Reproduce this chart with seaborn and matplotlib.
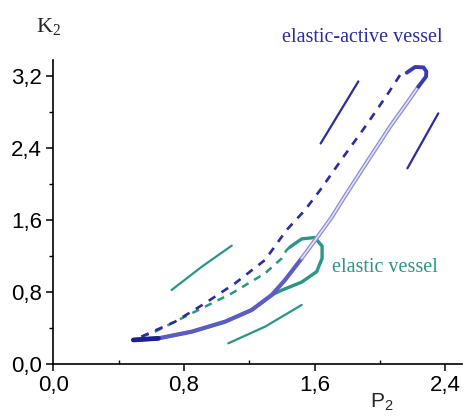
import numpy as np
import pandas as pd
import matplotlib
matplotlib.use("Agg")
import matplotlib.pyplot as plt
import matplotlib.patheffects as pe
from matplotlib.ticker import MultipleLocator, FuncFormatter
import seaborn as sns

# --- elastic-active vessel: loading branch (solid) and unloading branch (dashed)
active_load_p = [0.49, 0.643, 0.847, 1.051, 1.214, 1.337, 1.418, 1.52, 1.60, 1.70,
                 1.796, 1.928, 2.061, 2.163, 2.234, 2.281, 2.283, 2.265, 2.214, 2.163]
active_load_k = [0.267, 0.285, 0.359, 0.47, 0.60, 0.767, 0.933, 1.174, 1.37, 1.62,
                 1.897, 2.267, 2.637, 2.896, 3.081, 3.193, 3.25, 3.296, 3.30, 3.237]
active_unload_p = [2.122, 2.05, 1.918, 1.775, 1.632, 1.54, 1.428, 1.296, 1.112, 0.928,
                   0.745, 0.561, 0.49]
active_unload_k = [3.21, 3.01, 2.66, 2.30, 1.93, 1.71, 1.489, 1.156, 0.896, 0.674,
                   0.47, 0.322, 0.267]

# --- elastic vessel
elastic_load_p = [0.49, 0.643, 0.847, 1.051, 1.214, 1.337, 1.398, 1.52, 1.612, 1.645,
                  1.645, 1.60, 1.52, 1.449]
elastic_load_k = [0.267, 0.285, 0.359, 0.47, 0.60, 0.767, 0.82, 0.91, 1.026, 1.174,
                  1.31, 1.405, 1.39, 1.30]
elastic_unload_p = [1.449, 1.428, 1.398, 1.296, 1.092, 0.847, 0.622, 0.49]
elastic_unload_k = [1.30, 1.267, 1.174, 1.007, 0.785, 0.563, 0.359, 0.267]

# direction strokes beside the loops
active_down_p, active_down_k = [1.867, 1.636], [3.14, 2.45]
active_up_p, active_up_k = [2.167, 2.356], [2.174, 2.785]
elastic_down_p, elastic_down_k = [1.092, 0.908, 0.724], [1.315, 1.08, 0.822]
elastic_up_p, elastic_up_k = [1.071, 1.296, 1.52], [0.23, 0.415, 0.656]

x_ticks = [0.0, 0.8, 1.6, 2.4]
y_ticks = [0.0, 0.8, 1.6, 2.4, 3.2]

BLUE = "#2c2ca0"
TEAL = "#2a9686"

sns.set_theme(style="ticks")
plt.rcParams["font.family"] = ["Liberation Sans", "DejaVu Sans"]

fig = plt.figure(figsize=(4.65, 4.16), dpi=100)
ax = fig.add_axes([53.3 / 465, 1 - 364 / 416, 2.5 * 163.4 / 465, 3.38 * 90 / 416])


def draw(p, k, **kw):
    df = pd.DataFrame({"P": p, "K": k})
    sns.lineplot(data=df, x="P", y="K", sort=False, estimator=None, ax=ax, **kw)


# dashed unloading branches
draw(elastic_unload_p, elastic_unload_k, color=TEAL, lw=1.8, dashes=(3.0, 2.6))
draw(active_unload_p, active_unload_k, color=BLUE, lw=1.9, dashes=(3.0, 2.8))

# elastic vessel loop
draw(elastic_load_p, elastic_load_k, color=TEAL, lw=2.4, solid_capstyle="round")

# elastic-active loading branch: denser lower part, hollow tube above, dark turn at the top
draw(active_load_p[:8], active_load_k[:8], color="#5c5cc4", lw=3.0, solid_capstyle="round")
draw(active_load_p[7:15], active_load_k[7:15], color="#e2e2f6", lw=1.2,
     path_effects=[pe.Stroke(linewidth=3.0, foreground="#8c8cd4"), pe.Normal()])
draw(active_load_p[14:], active_load_k[14:], color="#3a3ab6", lw=2.8, solid_capstyle="round")
draw(active_load_p[:2], active_load_k[:2], color="#1e1e96", lw=3.4, solid_capstyle="round")

# direction strokes
for p, k, c in [(active_down_p, active_down_k, BLUE), (active_up_p, active_up_k, BLUE),
                (elastic_down_p, elastic_down_k, TEAL), (elastic_up_p, elastic_up_k, TEAL)]:
    draw(p, k, color=c, lw=1.6, solid_capstyle="round")

ax.set_xlim(0, 2.5)
ax.set_ylim(0, 3.38)
ax.set_xlabel("")
ax.set_ylabel("")
ax.set_xticks(x_ticks)
ax.set_yticks(y_ticks)
ax.xaxis.set_minor_locator(MultipleLocator(0.4))
ax.yaxis.set_minor_locator(MultipleLocator(0.4))
fmt = FuncFormatter(lambda v, _: f"{v:.1f}".replace(".", ","))
ax.xaxis.set_major_formatter(fmt)
ax.yaxis.set_major_formatter(fmt)
ax.tick_params(which="major", direction="out", length=5, width=1.1, labelsize=16,
               colors="black", pad=3)
ax.tick_params(which="minor", direction="out", length=3, width=1.0, colors="black")
ax.tick_params(axis="x", which="minor", direction="in")
sns.despine(ax=ax)
for s in ("left", "bottom"):
    ax.spines[s].set_linewidth(1.2)
    ax.spines[s].set_color("black")
ax.patch.set_alpha(0)

ax.text(1.89, 3.63, "elastic-active vessel", color=BLUE, fontsize=14.5,
        family=["Liberation Serif"], ha="center", va="center", clip_on=False)
ax.text(1.706, 1.07, "elastic vessel", color=TEAL, fontsize=14.5,
        family=["Liberation Serif"], ha="left", va="center")

fig.text(36 / 465, 1 - 32 / 416, r"$\mathregular{K_2}$", fontsize=16,
         family=["Liberation Serif"], ha="left", va="baseline")
fig.text(370 / 465, 1 - 408 / 416, r"$\mathregular{P_2}$", fontsize=15,
         family=["Liberation Sans"], ha="left", va="baseline")

fig.savefig("out.png", dpi=100, facecolor="white")
